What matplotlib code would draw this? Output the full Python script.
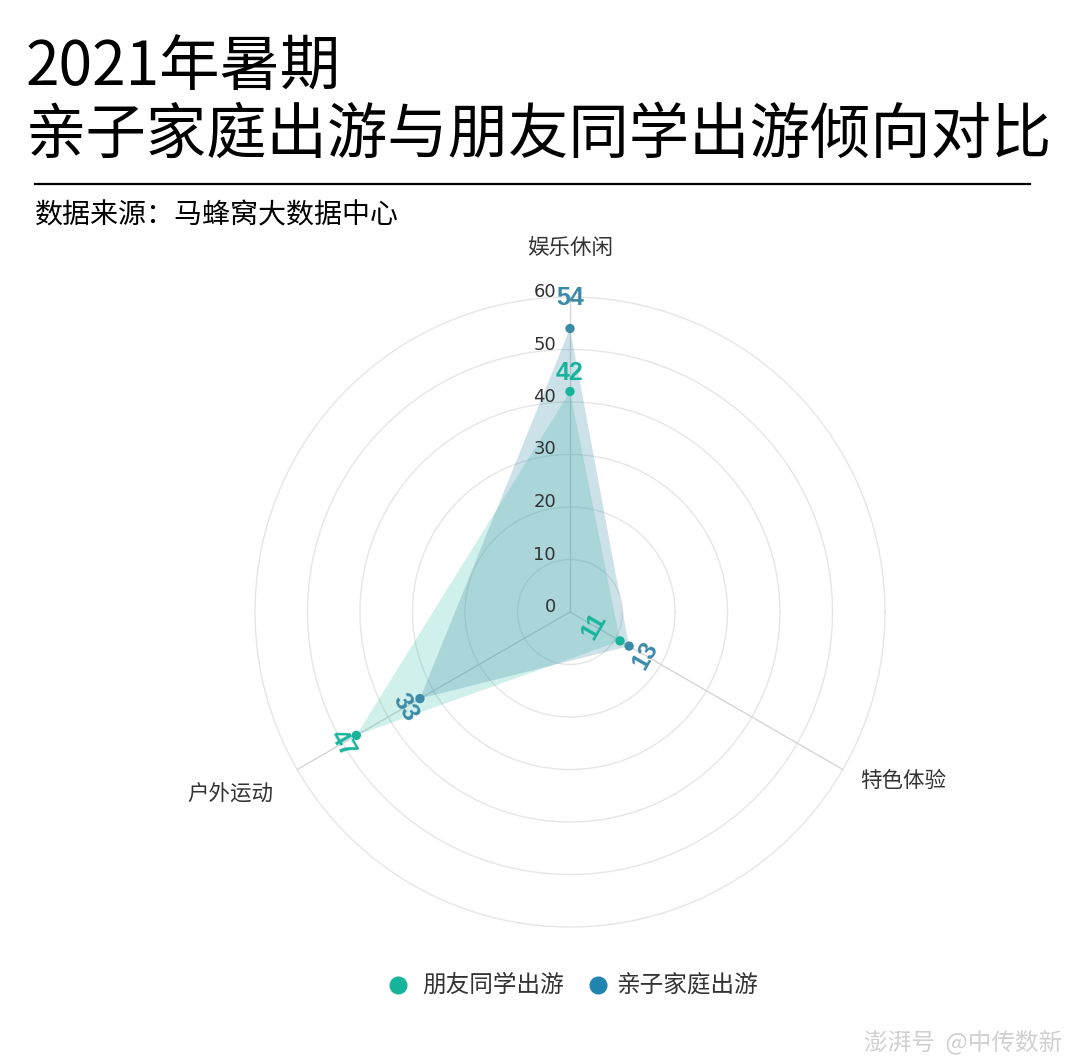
import numpy as np
import matplotlib
matplotlib.use("Agg")
import matplotlib.pyplot as plt
from matplotlib import transforms

plt.rcParams['font.family'] = ['Noto Sans CJK SC', 'DejaVu Sans']

# --- data ---
categories = ['娱乐休闲', '特色体验', '户外运动']
angles_deg = [90, -30, 210]
series_names = ['朋友同学出游', '亲子家庭出游']
friends = [42, 11, 47]
family = [54, 13, 33]
rings = [10, 20, 30, 40, 50, 60]
ring_labels = [0, 10, 20, 30, 40, 50, 60]

teal = '#17b49b'
blue = '#3a8aa8'
legend_blue = '#2285b0'

W, H = 1080, 1063
fig = plt.figure(figsize=(W / 100, H / 100), dpi=100)
fig.patch.set_facecolor('white')

# polar axes centred at (570, 612) px, radius 315 px
cx, cy, R = 570, 612, 315
ax = fig.add_axes([(cx - R) / W, (H - cy - R) / H, 2 * R / W, 2 * R / H],
                  projection='polar')
ax.set_ylim(0, 60)
ax.set_xticks([])
ax.set_yticks([])
ax.grid(False)
ax.spines['polar'].set_visible(False)
ax.set_facecolor('none')

th_full = np.linspace(0, 2 * np.pi, 400)
for r in rings:
    ax.plot(th_full, np.full_like(th_full, r), color='#e6e6e6', lw=1, zorder=1,
            clip_on=False)
th = np.deg2rad(angles_deg)
for a in th:
    ax.plot([a, a], [0, 60], color='#d6d6d6', lw=1, zorder=1, clip_on=False)

# ring labels
lab_tr = transforms.offset_copy(ax.transData, fig=fig, x=-14, y=5, units='dots')
for v in ring_labels:
    ax.text(np.pi / 2, v, str(v), transform=lab_tr, ha='right', va='center',
            fontsize=13, color='#333333', family=['DejaVu Sans'])

th_closed = np.append(th, th[0])
for vals, col, fa in [(friends, teal, 0.2), (family, blue, 0.25)]:
    v = np.append(vals, vals[0])
    ax.fill(th_closed, v, color=col, alpha=fa, lw=0, zorder=2)
    ax.scatter(th, vals, s=45, color=col, zorder=4, edgecolors='none')

# value labels (radial offsets in data units, text tangential)
friend_off = [3.5, -5.7, 3.0]
family_off = [5.8, 3.6, 3.2]
for vals, col, offs in [(friends, teal, friend_off), (family, blue, family_off)]:
    for a_deg, a, v, o in zip(angles_deg, th, vals, offs):
        rot = a_deg - 90
        if rot < -90:
            rot += 180
        elif rot > 90:
            rot -= 180
        ax.text(a, v + o, str(v), color=col, fontsize=18, fontweight='bold',
                rotation=rot, rotation_mode='anchor', ha='center', va='center',
                family=['Liberation Sans', 'DejaVu Sans'], zorder=5)

# category labels
cat_pos = [(570, 248), (903, 781), (230, 795)]
for name, (px, py) in zip(categories, cat_pos):
    fig.text(px / W, 1 - py / H, name, ha='center', va='center', fontsize=15.5,
             color='#333333')

# title and header
fig.text(26 / W, 1 - 68 / H, '2021年暑期', ha='left', va='center', fontsize=43.5,
         color='black')
fig.text(26 / W, 1 - 136 / H, '亲子家庭出游与朋友同学出游倾向对比', ha='left',
         va='center', fontsize=43.5, color='black')
fig.add_artist(plt.Line2D([35 / W, 1030 / W], [1 - 184 / H, 1 - 184 / H],
                          color='black', lw=1.6))
fig.text(35 / W, 1 - 215 / H, '数据来源：马蜂窝大数据中心', ha='left', va='center',
         fontsize=20.2, color='black', fontweight='medium')

# legend
leg_y = 1 - 985 / H
for (px, tx), name, col in zip([(398, 422), (598, 616)], series_names, [teal, legend_blue]):
    fig.add_artist(plt.Line2D([px / W], [leg_y], marker='o', markersize=12,
                              color=col, lw=0))
    fig.text(tx / W, leg_y, name, ha='left', va='center', fontsize=17,
             color='#333333')

# watermark
fig.text(1062 / W, 1 - 1042 / H, '澎湃号  @中传数新', ha='right', va='center',
         fontsize=17, color='#d0d0d0')

fig.savefig('out.png', dpi=100, facecolor='white')
